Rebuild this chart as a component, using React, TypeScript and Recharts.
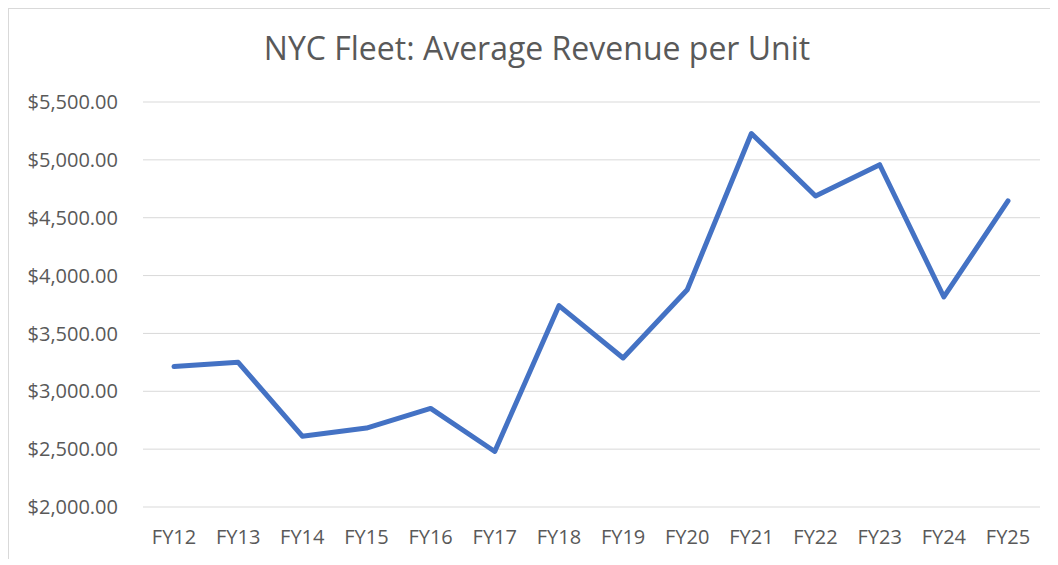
import React from 'react';
import { LineChart, Line, XAxis, YAxis, CartesianGrid } from 'recharts';

// Fiscal years shown on the x axis
const years = ['FY12', 'FY13', 'FY14', 'FY15', 'FY16', 'FY17', 'FY18', 'FY19', 'FY20', 'FY21', 'FY22', 'FY23', 'FY24', 'FY25'];

// Average revenue per unit
const revenue = [3214, 3250, 2612, 2682, 2852, 2480, 3740, 3288, 3878, 5228, 4688, 4958, 3815, 4645];

const yTicks = [2000, 2500, 3000, 3500, 4000, 4500, 5000, 5500];

const chartData = years.map((fy, i) => ({ fy, revenue: revenue[i] }));

const money = (v: number) =>
  '$' + v.toLocaleString('en-US', { minimumFractionDigits: 2, maximumFractionDigits: 2 });

const FONT = '"Open Sans", Calibri, sans-serif';
const TEXT = '#595959';

export default function App() {
  return (
    <div
      style={{
        position: 'relative',
        width: 1041,
        height: 550,
        borderTop: '1px solid #d9d9d9',
        borderLeft: '1px solid #d9d9d9',
        background: '#fff',
        fontFamily: FONT,
      }}
    >
      <div
        style={{
          position: 'absolute',
          top: 18,
          left: 0,
          width: 1056,
          textAlign: 'center',
          fontSize: 32,
          color: TEXT,
          lineHeight: '42px',
        }}
      >
        NYC Fleet: Average Revenue per Unit
      </div>
      <LineChart
        width={1040}
        height={549}
        data={chartData}
        margin={{ top: 93, right: 9, bottom: 0, left: 0 }}
      >
        <CartesianGrid vertical={false} stroke="#d9d9d9" strokeWidth={1} />
        <XAxis
          dataKey="fy"
          axisLine={false}
          tickLine={false}
          tickSize={0}
          tickMargin={23}
          height={51}
          interval={0}
          padding={{ left: 31, right: 32 }}
          tick={{ fill: TEXT, fontSize: 20, fontFamily: FONT }}
        />
        <YAxis
          domain={[2000, 5500]}
          ticks={yTicks}
          tickFormatter={money}
          axisLine={false}
          tickLine={false}
          tickSize={0}
          tickMargin={25}
          width={134}
          tick={{ fill: TEXT, fontSize: 20, fontFamily: FONT }}
        />
        <Line
          type="linear"
          dataKey="revenue"
          stroke="#4472c4"
          strokeWidth={5}
          strokeLinejoin="round"
          strokeLinecap="round"
          dot={false}
          activeDot={false}
          isAnimationActive={false}
        />
      </LineChart>
    </div>
  );
}
